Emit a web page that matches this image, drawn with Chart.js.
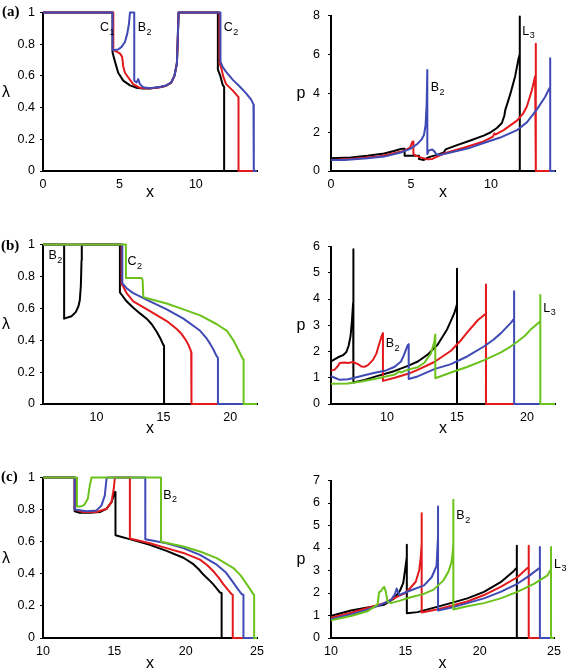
<!DOCTYPE html>
<html><head><meta charset="utf-8">
<script src="https://cdn.jsdelivr.net/npm/chart.js@4.4.1/dist/chart.umd.min.js"></script>
<style>
html,body{margin:0;padding:0;background:#fff;}
body{width:568px;height:671px;position:relative;overflow:hidden;}
canvas{position:absolute;}
</style>
</head><body>
<canvas id="a1"></canvas><canvas id="a2"></canvas>
<canvas id="b1"></canvas><canvas id="b2"></canvas>
<canvas id="c1"></canvas><canvas id="c2"></canvas>
<script>
// ---------- tick values / labels ----------
const lamTicks = [0, 0.2, 0.4, 0.6, 0.8, 1];
const lamTickLabels = ['0', '0.2', '0.4', '0.6', '0.8', '1'];
const aPTicks = [0, 2, 4, 6, 8];
const bPTicks = [0, 1, 2, 3, 4, 5, 6];
const cPTicks = [0, 1, 2, 3, 4, 5, 6, 7];
const aXTicks = [0, 5, 10];
const bXTicks = [10, 15, 20];
const cXTicks = [10, 15, 20, 25];

// ---------- series colours (black, red, blue, green) ----------
const seriesColors = ['#000000', '#e3191c', '#3f4ab5', '#6cc21c'];

// ---------- panel (a): lambda vs x ----------
const aLamK = [[0,1],[4.55,1],[4.55,0.747],[4.71,0.69],[4.92,0.62],[5.25,0.57],[5.69,0.54],[6.12,0.525],[6.54,0.52],[6.97,0.52],[7.63,0.528],[8.06,0.538],[8.39,0.558],[8.6,0.6],[8.76,0.68],[8.82,0.845],[8.87,1],[11.44,1],[11.44,0.64],[11.6,0.6],[11.75,0.545],[11.85,0.53],[11.85,0],[14,0]];
const aLamR = [[0,1],[4.6,1],[4.6,0.763],[4.81,0.753],[5.03,0.742],[5.18,0.72],[5.25,0.66],[5.36,0.62],[5.58,0.59],[5.9,0.548],[6.34,0.525],[6.97,0.52],[7.63,0.528],[8.06,0.538],[8.39,0.558],[8.6,0.6],[8.76,0.68],[8.82,0.845],[8.87,1],[11.55,1],[11.55,0.68],[11.66,0.65],[11.81,0.59],[11.98,0.548],[12.42,0.507],[12.79,0.466],[12.79,0],[14,0]];
const aLamB = [[0,1],[4.55,1],[4.55,0.763],[4.71,0.763],[4.92,0.767],[5.14,0.783],[5.36,0.814],[5.51,0.865],[5.62,0.926],[5.69,1],[5.97,1],[5.97,0.569],[6.12,0.558],[6.23,0.58],[6.34,0.548],[6.56,0.528],[6.97,0.522],[7.63,0.53],[8.06,0.54],[8.39,0.56],[8.6,0.6],[8.76,0.68],[8.82,0.845],[8.87,1],[11.61,1],[11.61,0.69],[11.76,0.655],[11.98,0.625],[12.42,0.575],[12.85,0.535],[13.29,0.49],[13.62,0.45],[13.77,0.42],[13.79,0],[14,0]];

// ---------- panel (a): p vs x ----------
const aPK = [[0,0.65],[1.24,0.7],[2.28,0.79],[3.32,0.9],[3.94,1.03],[4.25,1.11],[4.46,1.15],[4.6,1.15],[4.6,0.79],[5.5,0.79],[5.5,0.62],[5.81,0.57],[6.02,0.67],[6.22,0.74],[6.64,0.83],[7.05,0.95],[7.16,1.11],[7.88,1.33],[8.71,1.57],[9.54,1.82],[9.96,1.98],[10.37,2.21],[10.68,2.47],[10.83,2.83],[10.89,3.13],[11.2,3.94],[11.51,4.88],[11.72,5.78],[11.8,6.02],[11.8,7.95],[11.8,0],[14,0]];
const aPR = [[0,0.57],[1.24,0.62],[2.9,0.74],[3.73,0.87],[4.56,1.03],[4.94,1.2],[5.1,1.52],[5.15,1.52],[5.15,0.87],[5.29,0.79],[5.6,0.7],[6.02,0.6],[6.33,0.62],[6.64,0.74],[7.05,0.9],[8.3,1.2],[9.54,1.52],[10.12,1.77],[10.21,1.93],[10.3,1.88],[10.79,2.1],[11.62,2.59],[12.0,2.95],[12.24,3.32],[12.55,4.14],[12.76,4.88],[12.8,4.96],[12.8,6.55],[12.8,0],[14,0]];
const aPB = [[0,0.57],[0.83,0.57],[2.28,0.65],[3.32,0.74],[4.36,0.95],[4.98,1.15],[5.39,1.39],[5.64,1.6],[5.81,1.85],[5.91,2.34],[5.98,3.49],[6.02,5.2],[6.02,0.87],[6.12,1.06],[6.33,1.11],[6.47,1.0],[6.6,0.83],[6.85,0.83],[7.47,0.95],[8.71,1.2],[9.54,1.44],[10.58,1.72],[11.62,2.1],[12.24,2.5],[12.86,3.16],[13.38,3.81],[13.65,4.26],[13.7,4.3],[13.7,5.8],[13.7,0],[14,0]];

// ---------- panel (b): lambda vs x ----------
const bLamK = [[6,1],[7.58,1],[7.58,0.535],[7.75,0.54],[8.13,0.55],[8.45,0.576],[8.65,0.613],[8.75,0.65],[8.83,0.74],[8.88,0.9],[8.9,1],[11.75,1],[11.75,0.7],[11.88,0.685],[12.25,0.644],[12.75,0.603],[13.25,0.568],[13.75,0.535],[14.13,0.5],[14.5,0.453],[14.8,0.407],[15.0,0.37],[15.05,0.366],[15.05,0],[22,0]];
const bLamR = [[6,1],[11.88,1],[11.88,0.75],[12.0,0.737],[12.25,0.695],[12.75,0.644],[14.0,0.582],[15.25,0.52],[16.0,0.47],[16.35,0.44],[16.63,0.407],[16.85,0.375],[17.0,0.346],[17.08,0.325],[17.1,0.32],[17.1,0],[22,0]];
const bLamB = [[6,1],[11.93,1],[11.93,0.757],[12.25,0.726],[12.75,0.695],[14.0,0.644],[15.25,0.593],[16.5,0.535],[17.75,0.459],[18.2,0.415],[18.5,0.377],[18.75,0.34],[18.95,0.305],[19.08,0.288],[19.08,0],[22,0]];
const bLamG = [[6,1],[12.2,1],[12.2,0.79],[13.38,0.79],[13.45,0.775],[13.5,0.67],[14.0,0.658],[15.25,0.63],[16.5,0.593],[17.75,0.556],[19.0,0.5],[19.75,0.459],[20.25,0.397],[20.63,0.335],[20.93,0.284],[21.0,0.28],[21.0,0],[22,0]];

// ---------- panel (b): p vs x ----------
const bPK = [[6,1.62],[6.5,1.78],[6.86,1.86],[7.1,1.98],[7.26,2.22],[7.4,2.6],[7.5,3.2],[7.58,3.85],[7.6,5.9],[7.6,0.82],[8.4,0.92],[9.4,1.08],[10.5,1.25],[11.5,1.45],[12.2,1.62],[12.9,1.88],[13.6,2.25],[14.3,2.85],[14.8,3.45],[15.0,3.8],[15.0,5.15],[15.0,0],[22,0]];
const bPR = [[6,1.27],[6.26,1.31],[6.5,1.45],[6.62,1.56],[6.98,1.58],[7.21,1.56],[7.57,1.6],[7.93,1.52],[8.17,1.43],[8.4,1.42],[8.64,1.48],[9.0,1.68],[9.24,1.92],[9.48,2.35],[9.64,2.62],[9.71,2.7],[9.71,0.88],[10.55,1.0],[11.5,1.15],[12.19,1.3],[13.38,1.6],[14.57,2.03],[15.2,2.38],[15.76,2.75],[16.5,3.2],[17.07,3.45],[17.07,4.55],[17.07,0],[22,0]];
const bPB = [[6,1.06],[6.26,1.0],[6.62,0.92],[7.21,0.94],[7.69,1.0],[8.17,1.07],[9.12,1.19],[9.95,1.28],[10.55,1.42],[11.0,1.62],[11.2,1.85],[11.48,2.24],[11.55,2.28],[11.55,0.95],[12.19,1.05],[13.38,1.33],[14.57,1.52],[15.76,1.82],[16.95,2.2],[17.6,2.45],[18.14,2.7],[18.86,3.1],[19.08,3.25],[19.08,4.3],[19.08,0],[22,0]];
const bPG = [[6,0.77],[7.2,0.78],[8.17,0.86],[9.36,0.98],[10.55,1.12],[10.88,1.24],[11.0,1.2],[11.5,1.31],[12.19,1.4],[12.67,1.57],[13.14,1.93],[13.38,2.36],[13.45,2.65],[13.45,0.98],[14.57,1.2],[15.76,1.42],[16.95,1.67],[18.14,1.97],[18.8,2.18],[19.33,2.38],[19.85,2.6],[20.29,2.85],[20.95,3.15],[20.95,4.15],[20.95,0],[22,0]];

// ---------- panel (c): lambda vs x ----------
const cLamK = [[10,1],[12.22,1],[12.22,0.79],[12.57,0.78],[13.28,0.78],[13.98,0.785],[14.45,0.805],[14.8,0.846],[15.04,0.91],[15.08,0.91],[15.08,0.64],[16.32,0.61],[17.49,0.58],[18.66,0.543],[19.84,0.5],[20.54,0.46],[20.9,0.43],[21.24,0.395],[21.6,0.365],[21.94,0.334],[22.41,0.283],[22.52,0.28],[22.52,0],[25,0]];
const cLamR = [[10,1],[12.22,1],[12.22,0.8],[12.8,0.785],[13.75,0.785],[14.45,0.805],[14.8,0.846],[14.96,0.93],[15.04,1],[16.09,1],[16.09,0.62],[17.49,0.59],[18.66,0.56],[19.84,0.53],[21.0,0.488],[21.5,0.455],[21.94,0.416],[22.3,0.378],[22.65,0.334],[23.23,0.272],[23.3,0.27],[23.3,0],[25,0]];
const cLamB = [[10,1],[12.22,1],[12.22,0.8],[13.05,0.79],[13.75,0.795],[14.1,0.826],[14.33,0.887],[14.45,0.99],[14.5,1],[17.17,1],[17.17,0.615],[18.66,0.59],[19.84,0.56],[21.0,0.518],[22.18,0.457],[22.8,0.41],[23.35,0.344],[23.7,0.3],[23.94,0.272],[24.05,0.27],[24.05,0],[25,0]];
const cLamG = [[10,1],[12.38,1],[12.38,0.82],[12.67,0.82],[12.9,0.83],[13.14,0.867],[13.28,0.95],[13.4,1],[18.27,1],[18.27,0.6],[19.84,0.57],[21.0,0.539],[22.18,0.498],[23.35,0.436],[23.85,0.39],[24.29,0.334],[24.55,0.3],[24.75,0.272],[24.8,0.27],[24.8,0],[25,0]];

// ---------- panel (c): p vs x ----------
const cPK = [[10,0.98],[10.22,1.02],[11.34,1.22],[12.46,1.36],[13.58,1.48],[14.25,1.76],[14.64,2.1],[14.86,2.45],[15.0,3.1],[15.1,3.6],[15.1,4.15],[15.1,1.1],[15.82,1.15],[16.94,1.35],[18.05,1.55],[19.17,1.76],[20.29,2.05],[21.41,2.48],[22.3,2.98],[22.5,3.13],[22.5,4.1],[22.5,0],[25,0]];
const cPR = [[10,0.9],[11.34,1.12],[12.46,1.33],[13.58,1.55],[14.47,1.84],[14.92,1.97],[15.3,2.2],[15.7,2.5],[15.93,3.0],[16.04,3.6],[16.1,4.2],[16.1,5.55],[16.1,1.13],[16.94,1.24],[18.05,1.42],[19.17,1.62],[20.29,1.91],[21.41,2.27],[22.53,2.7],[23.2,3.1],[23.3,3.13],[23.3,4.1],[23.3,0],[25,0]];
const cPB = [[10,0.83],[11.34,1.05],[12.46,1.26],[13.36,1.48],[14.03,1.69],[14.3,1.95],[14.42,2.2],[14.59,1.91],[15.3,2.1],[16.26,2.34],[16.77,2.7],[17.1,3.2],[17.16,4.0],[17.2,4.5],[17.2,5.85],[17.2,1.22],[18.05,1.34],[19.17,1.55],[20.29,1.76],[21.41,2.05],[22.53,2.41],[23.3,2.75],[23.9,3.05],[24.05,3.12],[24.05,4.05],[24.05,0],[25,0]];
const cPG = [[10,0.79],[11.34,0.98],[12.46,1.19],[13.13,1.48],[13.24,2.05],[13.36,2.08],[13.47,2.2],[13.58,2.27],[13.69,2.05],[13.8,1.62],[14.03,1.55],[14.64,1.66],[15.3,1.8],[16.2,1.95],[16.9,2.15],[17.55,2.55],[17.9,2.95],[18.1,3.35],[18.2,3.9],[18.23,4.3],[18.23,6.15],[18.23,1.27],[19.17,1.41],[20.29,1.55],[21.41,1.76],[22.53,2.05],[23.65,2.41],[24.54,2.77],[24.8,3.06],[24.8,4.05],[24.8,0],[25,0]];

// ---------- curve annotations: [letter, subscript, x, y] ----------
const aLamNotes = [['C','1',3.73,0.883],['B','2',6.2,0.883],['C','2',11.83,0.883]];
const aPNotes = [['B','2',6.23,4.1],['L','3',11.96,7.0]];
const bLamNotes = [['B','2',6.41,0.909],['C','2',12.31,0.869]];
const bPNotes = [['B','2',9.91,2.17],['L','3',21.16,3.52]];
const cLamNotes = [['B','2',18.43,0.867]];
const cPNotes = [['B','2',18.43,5.28],['L','3',25.0,3.13]];

const SANS = '"Liberation Sans", Arial, Helvetica, sans-serif';
Chart.defaults.font.family = SANS;
Chart.defaults.color = '#000';

const panels = [
  {id:'a1', left:0,   top:0,   w:284, h:201, yw:43, padTop:8,  padRight:27, xh:30, xMin:0,  xMax:14, xTicks:aXTicks, yMin:0, yMax:1, yTicks:lamTicks, yLabels:lamTickLabels,
   series:[aLamK,aLamR,aLamB], yTitle:'\u03bb', yGap:37, xGap:26, tag:'(a)', tagX:2, tagY:16, notes:aLamNotes, yPad:5},
  {id:'a2', left:284, top:0,   w:284, h:201, yw:47, padTop:8,  padRight:13, xh:30, xMin:0,  xMax:14, xTicks:aXTicks, yMin:0, yMax:8, yTicks:aPTicks, yLabels:aPTicks.map(String),
   series:[aPK,aPR,aPB], yTitle:'p', yGap:30, xGap:26, tag:null, notes:aPNotes, yPad:8},
  {id:'b1', left:0,   top:232, w:284, h:202, yw:43, padTop:10, padRight:27, xh:30, xMin:6,  xMax:22, xTicks:bXTicks, yMin:0, yMax:1, yTicks:lamTicks, yLabels:lamTickLabels,
   series:[bLamK,bLamR,bLamB,bLamG], yTitle:'\u03bb', yGap:37, xGap:29, tag:'(b)', tagX:1, tagY:18, notes:bLamNotes, yPad:5},
  {id:'b2', left:284, top:231, w:284, h:203, yw:47, padTop:10, padRight:13, xh:30, xMin:6,  xMax:22, xTicks:bXTicks, yMin:0, yMax:6, yTicks:bPTicks, yLabels:bPTicks.map(String),
   series:[bPK,bPR,bPB,bPG], yTitle:'p', yGap:30, xGap:29, tag:null, notes:bPNotes, yPad:8},
  {id:'c1', left:0,   top:465, w:284, h:206, yw:43, padTop:10, padRight:27, xh:33, xMin:10, xMax:25, xTicks:cXTicks, yMin:0, yMax:1, yTicks:lamTicks, yLabels:lamTickLabels,
   series:[cLamK,cLamR,cLamB,cLamG], yTitle:'\u03bb', yGap:37, xGap:30, tag:'(c)', tagX:1, tagY:16, notes:cLamNotes, yPad:5},
  {id:'c2', left:284, top:465, w:284, h:206, yw:47, padTop:10, padRight:14, xh:33, xMin:10, xMax:25, xTicks:cXTicks, yMin:0, yMax:7, yTicks:cPTicks, yLabels:cPTicks.map(String),
   series:[cPK,cPR,cPB,cPG], yTitle:'p', yGap:30, xGap:30, tag:null, notes:cPNotes, yPad:8}
];

function textPlugin(p) {
  return {
    id: 'txt_' + p.id,
    afterDraw(chart) {
      const ctx = chart.ctx, ca = chart.chartArea;
      const xs = chart.scales.x, ys = chart.scales.y;
      ctx.save();
      ctx.fillStyle = '#000';
      ctx.textBaseline = 'alphabetic';
      ctx.textAlign = 'center';
      ctx.font = '16px ' + SANS;
      ctx.fillText(p.yTitle, ca.left - p.yGap, (ca.top + ca.bottom) / 2 + 5);
      ctx.fillText('x', (ca.left + ca.right) / 2, ca.bottom + p.xGap);
      if (p.tag) {
        ctx.textAlign = 'left';
        ctx.font = 'bold 15px "Liberation Serif", "Times New Roman", serif';
        ctx.fillText(p.tag, p.tagX, p.tagY);
      }
      ctx.textAlign = 'left';
      for (const [m, s, xv, yv] of p.notes) {
        const px = xs.getPixelForValue(xv), py = ys.getPixelForValue(yv);
        ctx.font = '12.5px ' + SANS;
        ctx.fillText(m, px, py);
        const w = ctx.measureText(m).width;
        ctx.font = '9px ' + SANS;
        ctx.fillText(s, px + w + 0.5, py + 3.5);
      }
      ctx.restore();
    }
  };
}

for (const p of panels) {
  const cv = document.getElementById(p.id);
  cv.width = p.w; cv.height = p.h;
  cv.style.left = p.left + 'px'; cv.style.top = p.top + 'px';
  cv.style.width = p.w + 'px'; cv.style.height = p.h + 'px';
  const datasets = p.series.map((arr, i) => ({
    data: arr.map(([x, y]) => ({x, y})),
    borderColor: seriesColors[i],
    backgroundColor: seriesColors[i],
    borderWidth: 2,
    pointRadius: 0,
    showLine: true,
    fill: false,
    tension: 0,
    clip: false,
    order: 3 - i,
    borderJoinStyle: 'round'
  }));
  new Chart(cv, {
    type: 'scatter',
    data: {datasets},
    options: {
      responsive: false,
      devicePixelRatio: 1,
      animation: false,
      events: [],
      layout: {padding: {top: p.padTop, right: p.padRight, left: 0, bottom: 0}},
      plugins: {legend: {display: false}, tooltip: {enabled: false}},
      scales: {
        x: {
          type: 'linear', min: p.xMin, max: p.xMax,
          afterFit: s => { s.height = p.xh; },
          afterBuildTicks: s => { s.ticks = p.xTicks.map(v => ({value: v})); },
          ticks: {autoSkip: false, maxRotation: 0, padding: 6, color: '#000', font: {size: 12.5},
                  callback: (v, i) => String(p.xTicks[i])},
          grid: {display: false, drawTicks: false},
          border: {display: true, color: '#000', width: 2}
        },
        y: {
          type: 'linear', min: p.yMin, max: p.yMax,
          afterFit: s => { s.width = p.yw; },
          afterBuildTicks: s => { s.ticks = p.yTicks.map(v => ({value: v})); },
          ticks: {autoSkip: false, padding: p.yPad, color: '#000', font: {size: 12.5},
                  callback: (v, i) => p.yLabels[i]},
          grid: {display: true, drawOnChartArea: false, drawTicks: true, tickLength: 3, color: '#000', lineWidth: 1},
          border: {display: true, color: '#000', width: 2}
        }
      }
    },
    plugins: [textPlugin(p)]
  });
}
</script>
</body></html>
